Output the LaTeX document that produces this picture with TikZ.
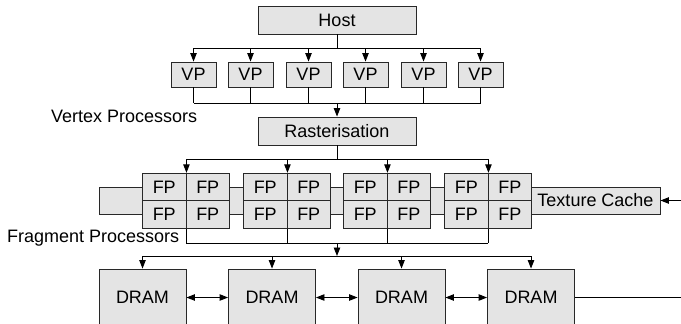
\documentclass[tikz,border=0pt]{standalone}
\usepackage{fontspec}
\setmainfont{Liberation Sans}
\usetikzlibrary{arrows.meta}
\definecolor{boxfill}{RGB}{228,228,228}
\definecolor{edge}{RGB}{40,40,40}

\begin{document}
\begin{tikzpicture}[x=1pt,y=-1pt,
  box/.style={draw=edge, fill=boxfill, line width=0.9pt, inner sep=0pt,
              font=\fontsize{18}{21}\selectfont},
  wire/.style={draw=black, line width=0.9pt},
  arr/.style={wire, -{Triangle[length=8.5pt,width=6.5pt]}},
  dbl/.style={wire, {Triangle[length=8.5pt,width=6.5pt]}-{Triangle[length=8.5pt,width=6.5pt]}},
  lbl/.style={font=\fontsize{18}{21}\selectfont, inner sep=0pt}
]
\useasboundingbox (0,0) rectangle (681,324);
\clip (0,0) rectangle (681,324);

% host and vertex processors
\node[box, minimum width=158, minimum height=28] (host) at (337,20) {Host};
\foreach \i/\x in {1/193.5,2/250.5,3/308.5,4/365.5,5/423.5,6/480.5}
  \node[box, minimum width=45, minimum height=25] (vp\i) at (\x,74.5) {VP};
\node[lbl, anchor=base west] (vlabel) at (51,122) {Vertex Processors};

% rasteriser
\node[box, minimum width=158, minimum height=28] (raster) at (337,131) {Rasterisation};

% fragment processor bank on its carrier bar
\node[box, minimum width=432, minimum height=27] (bar) at (315,200.5) {};
\foreach \g/\d in {1/186,2/287,3/387,4/488} {
  \node[box, minimum width=43.5, minimum height=27.5] (fp\g a) at (\d-21.75,187) {FP};
  \node[box, minimum width=43.5, minimum height=27.5] (fp\g b) at (\d+21.75,187) {FP};
  \node[box, minimum width=43.5, minimum height=27.5] (fp\g c) at (\d-21.75,214.5) {FP};
  \node[box, minimum width=43.5, minimum height=27.5] (fp\g d) at (\d+21.75,214.5) {FP};
}
\node[box, minimum width=129, minimum height=27] (tc) at (595.5,200.5) {Texture Cache};
\node[lbl, anchor=base west] (flabel) at (7,242) {Fragment Processors};

% memory banks
\foreach \i/\x in {1/142.5,2/272,3/401.5,4/531}
  \node[box, minimum width=87, minimum height=57] (dram\i) at (\x,297.5) {DRAM};

% host -> vertex processors
\coordinate (hbus) at (337,48);
\draw[wire] (host.south) -- (hbus);
\draw[wire] (vp1.north |- hbus) -- (vp6.north |- hbus);
\foreach \i in {1,...,6}
  \draw[arr] (vp\i.north |- hbus) -- (vp\i.north);

% vertex processors -> rasteriser
\coordinate (vbus) at (337,103);
\foreach \i in {1,...,6}
  \draw[wire] (vp\i.south) -- (vp\i.south |- vbus);
\draw[wire] (vp1.south |- vbus) -- (vp6.south |- vbus);
\draw[arr] (vbus) -- (raster.north);

% rasteriser -> fragment processors
\coordinate (rbus) at (337,159);
\draw[wire] (raster.south) -- (rbus);
\draw[wire] (fp1a.north east |- rbus) -- (fp4a.north east |- rbus);
\foreach \g in {1,...,4}
  \draw[arr] (fp\g a.north east |- rbus) -- (fp\g a.north east);

% fragment processors -> memory
\coordinate (fbus) at (337,243);
\coordinate (dbus) at (337,256);
\foreach \g in {1,...,4}
  \draw[wire] (fp\g c.south east) -- (fp\g c.south east |- fbus);
\draw[wire] (fp1c.south east |- fbus) -- (fp4c.south east |- fbus);
\draw[arr] (fbus) -- (dbus);
\draw[wire] (dram1.north |- dbus) -- (dram4.north |- dbus);
\foreach \i in {1,...,4}
  \draw[arr] (dram\i.north |- dbus) -- (dram\i.north);

% links between memory banks
\draw[dbl] (dram1.east) -- (dram2.west);
\draw[dbl] (dram2.east) -- (dram3.west);
\draw[dbl] (dram3.east) -- (dram4.west);
\coordinate (memout) at (681,297.5);
\draw[wire] (dram4.east) -- (memout);

% texture input
\coordinate (texin) at (681,200.5);
\draw[arr] (texin) -- (tc.east);
\end{tikzpicture}
\end{document}
